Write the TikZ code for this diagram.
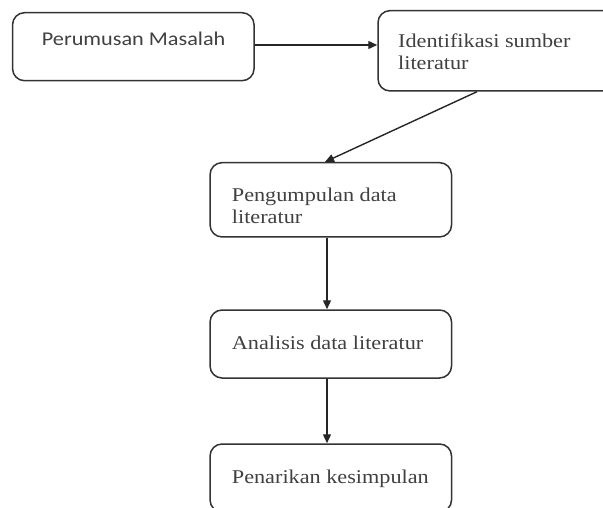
\documentclass[tikz,border=0pt]{standalone}
\usepackage{fontspec}
\setmainfont{Liberation Serif}
\newfontfamily\sansf{Carlito}
\usetikzlibrary{arrows.meta}
\tikzset{
  box/.style={draw=black!80, line width=1.5pt, rounded corners=12pt, minimum width=241.5pt, inner sep=0pt},
  txt/.style={inner sep=0pt, anchor=base west, text=black!75, font=\fontsize{19.5}{22}\selectfont, align=left},
  stxt/.style={inner sep=0pt, anchor=base west, text=black!75, font=\sansf\fontsize{19.5}{22}\selectfont},
  arr/.style={draw=black!85, line width=1.4pt, -{Triangle[length=9pt,width=8pt]}}
}
\newcommand{\wide}[1]{\scalebox{1.14}[1]{#1}}
\begin{document}
\begin{tikzpicture}[x=1pt,y=-1pt]
\useasboundingbox (0,0) rectangle (603,508);
\clip (0,0) rectangle (603,508);
\node[box, minimum height=68pt] (b1) at (133.3,46.7) {};
\node[box, minimum width=262pt, minimum height=80.3pt] (b2) at (509,50.8) {};
\node[box, minimum height=74.3pt] (b3) at (330.8,199.8) {};
\node[box, minimum height=68pt] (b4) at (330.8,344) {};
\node[box, minimum height=68pt] (b5) at (330.8,478) {};
\node[stxt] (t1) at (41.7,45.7) {\wide{Perumusan Masalah}};
\node[txt] (t2) at (398,70) {\wide{Identifikasi sumber}\\\wide{literatur}};
\node[txt] (t3) at (231.7,223.3) {\wide{Pengumpulan data}\\\wide{literatur}};
\node[txt] (t4) at (231.7,349) {\wide{Analisis data literatur}};
\node[txt] (t5) at (231.7,483) {\wide{Penarikan kesimpulan}};
\draw[arr] ([yshift=1.7pt]b1.east) -- ([yshift=5.8pt]b2.west);
\draw[arr] ([xshift=-32pt]b2.south) -- ([xshift=-5.8pt]b3.north);
\draw[arr] ([xshift=-3.8pt]b3.south) -- ([xshift=-3.8pt]b4.north);
\draw[arr] ([xshift=-3.8pt]b4.south) -- ([xshift=-3.8pt]b5.north);
\end{tikzpicture}
\end{document}
